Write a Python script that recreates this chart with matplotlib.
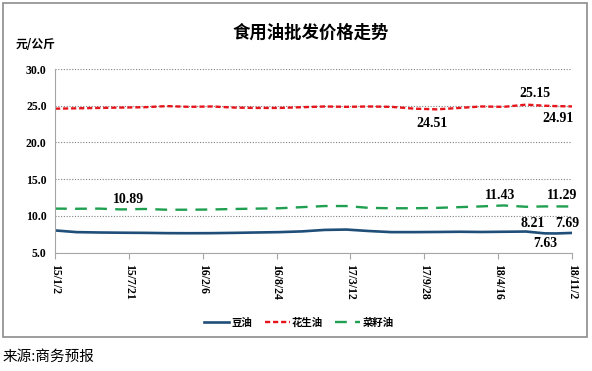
import pandas as pd
import matplotlib
matplotlib.use('Agg')
import matplotlib.pyplot as plt
from matplotlib.patches import Rectangle

plt.rcParams['font.family'] = ['Noto Sans CJK SC', 'DejaVu Sans']

# 数据
dates = ['2015-01-02', '2015-03-01', '2015-05-01', '2015-07-01', '2015-09-01', '2015-11-01',
         '2016-01-01', '2016-03-01', '2016-05-01', '2016-07-01', '2016-09-01', '2016-11-01',
         '2017-01-01', '2017-03-01', '2017-05-01', '2017-07-01', '2017-09-01', '2017-11-01',
         '2018-01-01', '2018-03-01', '2018-05-01', '2018-07-01', '2018-08-20', '2018-09-20',
         '2018-11-02']
soybean = [8.03, 7.80, 7.75, 7.72, 7.70, 7.66, 7.65, 7.66, 7.70, 7.75, 7.80, 7.90,
           8.10, 8.15, 7.95, 7.80, 7.80, 7.82, 7.85, 7.82, 7.85, 7.88, 7.63, 7.62, 7.69]
peanut = [24.60, 24.65, 24.70, 24.75, 24.80, 24.95, 24.85, 24.90, 24.75, 24.70, 24.70, 24.80,
          24.90, 24.85, 24.90, 24.85, 24.60, 24.51, 24.70, 24.90, 24.85, 25.15, 25.00, 24.95,
          24.91]
rapeseed = [11.00, 10.98, 11.00, 10.89, 10.95, 10.85, 10.85, 10.88, 10.95, 11.00, 11.05, 11.20,
            11.35, 11.35, 11.10, 11.05, 11.05, 11.10, 11.20, 11.30, 11.43, 11.25, 11.30, 11.30,
            11.29]

tick_dates = ['2015-01-02', '2015-07-21', '2016-02-06', '2016-08-24',
              '2017-03-12', '2017-09-28', '2018-04-16', '2018-11-02']
tick_labels = ['15/1/2', '15/7/21', '16/2/6', '16/8/24', '17/3/12', '17/9/28', '18/4/16', '18/11/2']

# 数据标签: (日期, y位置, 文本)
point_labels = [('2015-07-19', 12.2, '10.89'),
                ('2017-10-19', 22.65, '24.51'),
                ('2018-07-25', 26.6, '25.15'),
                ('2018-09-25', 23.3, '24.91'),
                ('2018-04-21', 12.85, '11.43'),
                ('2018-10-06', 12.85, '11.29'),
                ('2018-07-19', 9.0, '8.21'),
                ('2018-10-19', 9.0, '7.69'),
                ('2018-08-21', 6.3, '7.63')]

x = pd.to_datetime(dates)

fig = plt.figure(figsize=(5.92, 3.71), dpi=100)
ax = fig.add_axes([55 / 592, 1 - 252.7 / 371, 517 / 592, 183.7 / 371])

# 外框
fig.patches.append(Rectangle((3 / 592, 1 - 337 / 371), 584 / 592, 334 / 371,
                             transform=fig.transFigure, fill=False,
                             edgecolor='#8c8c8c', linewidth=1.2))

ax.plot(x, soybean, color='#1F4E79', linewidth=1.9, label='豆油')
ax.plot(x, peanut, color='#E8141C', linewidth=1.7, linestyle=(0, (2.2, 1.2)), label='花生油')
ax.plot(x, rapeseed, color='#1FA050', linewidth=1.7, linestyle=(0, (5, 3.5)), label='菜籽油')

ax.set_ylim(5, 30)
ax.set_yticks([5, 10, 15, 20, 25, 30])
ax.set_yticklabels(['5.0', '10.0', '15.0', '20.0', '25.0', '30.0'],
                   family='Liberation Serif', fontweight='bold', fontsize=8.5)
ax.set_xlim(pd.Timestamp(tick_dates[0]), pd.Timestamp(tick_dates[-1]))
ax.set_xticks(pd.to_datetime(tick_dates))
ax.set_xticklabels(tick_labels, rotation=270, family='Liberation Serif',
                   fontweight='bold', fontsize=8.5)

ax.grid(axis='y', color='#808080', linestyle=(0, (1, 1.5)), linewidth=0.8)
ax.set_axisbelow(True)
for s in ['top', 'right']:
    ax.spines[s].set_visible(False)
ax.spines['left'].set_color('#a6a6a6')
ax.spines['bottom'].set_color('#a6a6a6')
ax.tick_params(axis='y', length=0, pad=6)
ax.tick_params(axis='x', direction='out', length=4, color='#a6a6a6', pad=4)

for d, yv, t in point_labels:
    ax.text(pd.Timestamp(d), yv, t, ha='center', va='center', family='Liberation Serif',
            fontweight='bold', fontsize=10)

fig.text(311 / 592, 1 - 33 / 371, '食用油批发价格走势', ha='center', va='center',
         fontsize=12.5, fontweight='bold')
fig.text(16 / 592, 1 - 45 / 371, '元/公斤', ha='left', va='center', fontsize=8.5, fontweight='bold')
fig.text(3 / 592, 1 - 357 / 371, '来源:商务预报', ha='left', va='center', fontsize=10.5)

fig.legend(loc='center', bbox_to_anchor=(299 / 592, 1 - 323 / 371), ncol=3, frameon=False,
           prop={'size': 7.5, 'weight': 'bold'}, handlelength=2.4, columnspacing=1.2,
           handletextpad=0.2)

fig.savefig('out.png', dpi=100)
